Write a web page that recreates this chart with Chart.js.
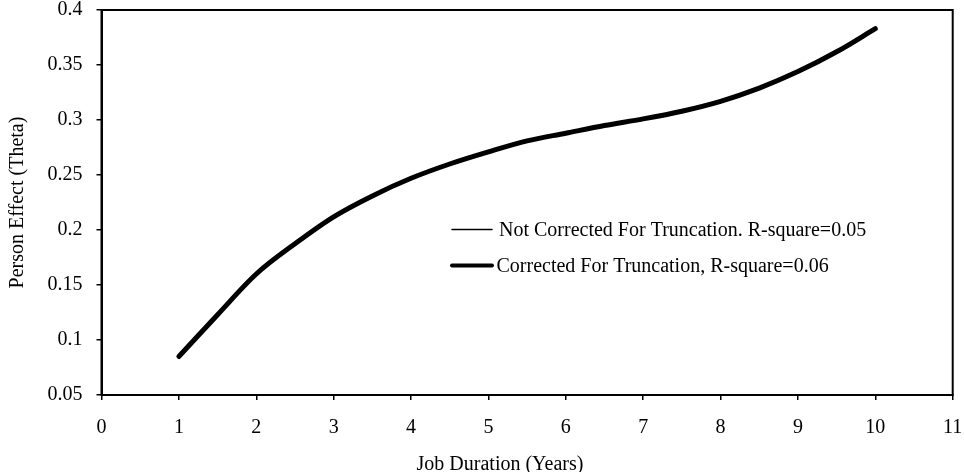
<!DOCTYPE html>
<html>
<head>
<meta charset="utf-8">
<script src="https://cdn.jsdelivr.net/npm/chart.js@4/dist/chart.umd.min.js"></script>
<style>
  html, body { margin: 0; padding: 0; background: #fff; }
  #wrap { width: 964px; height: 472px; position: relative; }
</style>
</head>
<body>
<div id="wrap"><canvas id="thetaChart"></canvas></div>
<script>
// values
const jobYears = [1, 1.5, 2, 2.5, 3, 3.5, 4, 4.5, 5, 5.5, 6, 6.5, 7, 7.5, 8, 8.5, 9, 9.5, 10];
const correctedTheta = [0.085, 0.123, 0.160, 0.1875, 0.212, 0.231, 0.247, 0.260, 0.271, 0.281, 0.288, 0.295, 0.301, 0.308, 0.317, 0.329, 0.344, 0.362, 0.383];
// thin line sits under the thick one in the figure
const notCorrectedTheta = [0.085, 0.123, 0.160, 0.1875, 0.212, 0.231, 0.247, 0.260, 0.271, 0.281, 0.288, 0.295, 0.301, 0.308, 0.317, 0.329, 0.344, 0.362, 0.383];
const seriesNames = ['Not Corrected For Truncation. R-square=0.05', 'Corrected For Truncation, R-square=0.06'];
const xTickLabels = ['0', '1', '2', '3', '4', '5', '6', '7', '8', '9', '10', '11'];
const yTickLabels = ['0.05', '0.1', '0.15', '0.2', '0.25', '0.3', '0.35', '0.4'];
const xTitle = 'Job Duration (Years)';
const yTitle = 'Person Effect (Theta)';

const serif = 'Liberation Serif, Times New Roman, serif';

const toPoints = (xs, ys) => xs.map((x, i) => ({ x: x, y: ys[i] }));

const frameAndLegend = {
  id: 'frameAndLegend',
  afterDraw(chart) {
    const ctx = chart.ctx;
    const a = chart.chartArea;
    ctx.save();
    // plot box
    ctx.strokeStyle = '#000';
    ctx.lineWidth = 2;
    ctx.strokeRect(a.left, a.top, a.right - a.left, a.bottom - a.top);

    // legend inside the plot
    const rows = [
      { y: 229.5, w: 1.5, textX: 499 },
      { y: 265.5, w: 4, textX: 496.5 }
    ];
    ctx.font = '20px ' + serif;
    ctx.fillStyle = '#000';
    ctx.textBaseline = 'middle';
    ctx.textAlign = 'left';
    chart.data.datasets.forEach((ds, i) => {
      const r = rows[i];
      ctx.beginPath();
      ctx.lineWidth = r.w;
      ctx.lineCap = 'round';
      ctx.moveTo(452, r.y);
      ctx.lineTo(492, r.y);
      ctx.stroke();
      ctx.fillText(ds.label, r.textX, r.y + 1);
    });

    // x axis title
    ctx.textAlign = 'center';
    ctx.fillText(xTitle, 500, 465);
    ctx.restore();
  }
};

new Chart(document.getElementById('thetaChart'), {
  type: 'line',
  data: {
    datasets: [
      {
        label: seriesNames[0],
        data: toPoints(jobYears, notCorrectedTheta),
        borderColor: '#000',
        borderWidth: 1.5,
        pointRadius: 0,
        cubicInterpolationMode: 'monotone',
        fill: false
      },
      {
        label: seriesNames[1],
        data: toPoints(jobYears, correctedTheta),
        borderColor: '#000',
        borderWidth: 5,
        borderCapStyle: 'round',
        pointRadius: 0,
        cubicInterpolationMode: 'monotone',
        fill: false
      }
    ]
  },
  options: {
    responsive: true,
    maintainAspectRatio: false,
    animation: false,
    layout: { padding: 0 },
    plugins: {
      legend: { display: false },
      tooltip: { enabled: false }
    },
    scales: {
      x: {
        type: 'linear',
        min: 0,
        max: 11,
        afterFit(scale) {
          scale.height = 77;
          scale.paddingLeft = 0;
          scale.paddingRight = 11.3;
        },
        ticks: {
          stepSize: 1,
          color: '#000',
          padding: 16,
          maxRotation: 0,
          font: { family: serif, size: 20 },
          callback: (v, i) => xTickLabels[i]
        },
        grid: { drawOnChartArea: false, drawTicks: true, tickLength: 5, color: '#000', lineWidth: 1.5 },
        border: { display: true, color: '#000', width: 2 }
      },
      y: {
        min: 0.05,
        max: 0.4,
        afterFit(scale) {
          scale.width = 101.5;
          scale.paddingTop = 10;
          scale.paddingBottom = 0;
        },
        ticks: {
          stepSize: 0.05,
          color: '#000',
          padding: 14,
          font: { family: serif, size: 20 },
          callback: (v, i) => yTickLabels[i]
        },
        title: {
          display: true,
          text: yTitle,
          color: '#000',
          padding: { top: 6, bottom: 0 },
          font: { family: serif, size: 20 }
        },
        grid: { drawOnChartArea: false, drawTicks: true, tickLength: 5, color: '#000', lineWidth: 1.5 },
        border: { display: true, color: '#000', width: 2 }
      }
    }
  },
  plugins: [frameAndLegend]
});
</script>
</body>
</html>
